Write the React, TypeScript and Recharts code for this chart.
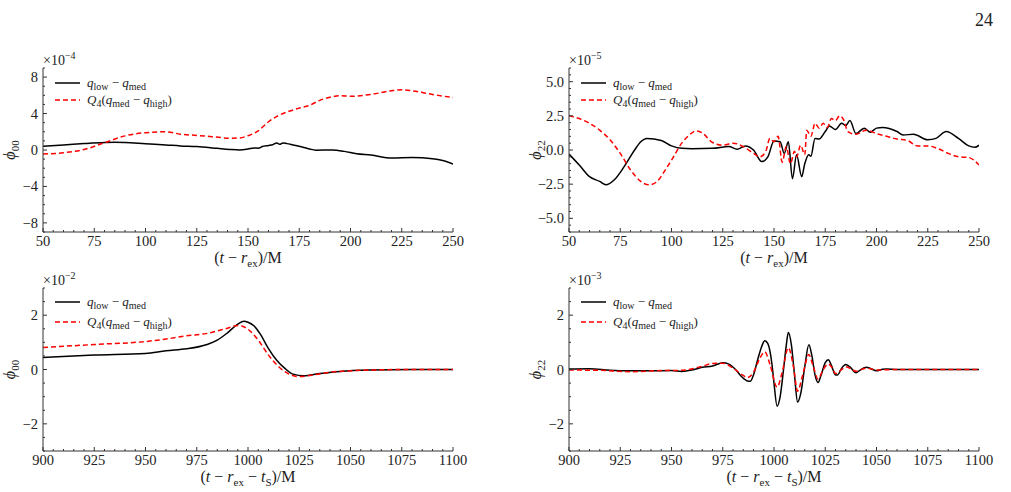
import React from 'react';
import { LineChart, Line, XAxis, YAxis } from 'recharts';

const SERIF = '"Liberation Serif", "DejaVu Serif", serif';
const FRAME = '#333';

// phi_00 over the early window, units of 1e-4
const early00T = [50, 60, 70, 80, 85, 90, 100, 110, 117, 125, 135, 141, 146, 150, 153, 155, 157, 160, 162, 164, 165.5, 167, 169, 172, 176, 180, 183, 191, 197, 203, 210, 220, 230, 240, 245, 250];
const early00Low = [0.42, 0.55, 0.7, 0.82, 0.85, 0.82, 0.68, 0.55, 0.45, 0.38, 0.18, 0.06, 0.0, 0.1, 0.22, 0.2, 0.38, 0.5, 0.58, 0.76, 0.62, 0.78, 0.7, 0.55, 0.35, 0.12, -0.02, 0.0, -0.15, -0.42, -0.55, -0.88, -0.82, -0.95, -1.15, -1.55];
const early00HighT = [50, 60, 70, 80, 90, 100, 110, 117, 125, 133, 141, 146, 150, 155, 160, 165, 170, 175, 180, 185, 190, 195, 200, 210, 220, 225, 230, 240, 250];
const early00High = [-0.45, -0.3, 0.05, 0.8, 1.55, 1.9, 2.0, 1.74, 1.6, 1.45, 1.3, 1.32, 1.57, 2.1, 3.1, 3.8, 4.25, 4.6, 4.9, 5.45, 5.8, 5.95, 5.9, 6.1, 6.5, 6.6, 6.5, 6.1, 5.75];

// phi_22 over the early window, units of 1e-5
const early22T = [50, 55, 60, 65, 68, 72, 77, 82, 85, 88, 95, 100, 105, 110, 120, 128, 132, 136, 140, 144, 147, 150, 153, 155, 157, 159, 161, 163.5, 165, 167, 168, 170, 172, 175, 177, 180, 183, 185, 187, 190, 194, 197, 200, 203, 210, 213, 218, 225, 229, 234, 240, 245, 248, 250];
const early22Low = [-0.3, -1.1, -1.95, -2.3, -2.55, -2.2, -1.2, 0.0, 0.6, 0.85, 0.7, 0.3, 0.12, 0.1, 0.12, 0.25, 0.05, 0.3, 0.0, -0.85, -0.5, 0.65, 0.6, -0.25, 0.6, -2.1, -0.35, -1.95, -1.0, -0.35, -0.45, 0.85, 0.8, 1.35, 1.75, 1.5, 1.95, 1.8, 2.15, 1.2, 1.6, 1.3, 1.6, 1.65, 1.35, 1.1, 1.15, 0.75, 0.85, 1.35, 0.85, 0.3, 0.2, 0.35];
const early22HighT = [50, 55, 60, 65, 70, 75, 80, 85, 89, 93, 97, 100, 105, 110, 112, 115, 120, 125, 130, 135, 140, 143, 146, 148, 150, 152, 154, 156, 158, 160, 161, 163, 165, 166, 168, 170, 172, 174, 176, 178, 180, 182, 184, 186, 190, 195, 200, 205, 210, 215, 220, 225, 230, 235, 240, 245, 250];
const early22High = [2.5, 2.3, 1.95, 1.45, 0.75, -0.25, -1.45, -2.3, -2.55, -2.3, -1.45, -0.75, 0.5, 1.25, 1.4, 1.25, 0.55, 0.35, 0.5, 0.25, -0.25, -0.5, -0.1, 0.85, 0.6, 1.0, -0.9, 0.25, -1.0, -0.1, -0.5, 0.35, -0.35, 1.45, 1.0, 1.95, 1.6, 1.95, 1.65, 2.3, 2.15, 2.5, 2.2, 1.35, 1.15, 1.45, 1.2, 1.0, 0.8, 0.7, 0.3, 0.3, 0.1, -0.25, -0.5, -0.55, -1.1];

// phi_00 around the merger, units of 1e-2
const late00T = [900, 925, 950, 960, 970, 980, 985, 990, 995, 998, 1000, 1003, 1006, 1010, 1014, 1018, 1022, 1027, 1035, 1045, 1060, 1080, 1100];
const late00Low = [0.44, 0.53, 0.59, 0.69, 0.76, 0.92, 1.08, 1.35, 1.67, 1.78, 1.74, 1.6, 1.3, 0.77, 0.34, 0.04, -0.17, -0.23, -0.15, -0.07, -0.02, 0.0, 0.0];
const late00HighT = [900, 925, 950, 960, 970, 980, 990, 995, 997, 1000, 1005, 1010, 1015, 1020, 1025, 1030, 1040, 1060, 1080, 1100];
const late00High = [0.81, 0.92, 1.03, 1.12, 1.24, 1.33, 1.52, 1.62, 1.6, 1.48, 1.08, 0.53, 0.1, -0.17, -0.26, -0.22, -0.1, -0.02, 0.0, 0.0];

// phi_22 around the merger, units of 1e-3
const late22T = [900, 910, 920, 930, 940, 950, 955, 960, 965, 970, 975, 978, 981, 984, 987, 988.5, 990, 992, 994, 995.5, 997, 999, 1000, 1001.5, 1003, 1004.5, 1006, 1007, 1008.5, 1010, 1011.5, 1013, 1015, 1017, 1018.5, 1020, 1021.5, 1023, 1025, 1026.5, 1028, 1030, 1031, 1033, 1035, 1037, 1040, 1042, 1045, 1047, 1050, 1053, 1055, 1060, 1100];
const late22Low = [0.02, 0.03, -0.03, -0.05, -0.05, -0.04, -0.07, -0.02, 0.08, 0.13, 0.25, 0.2, 0.02, -0.25, -0.42, -0.43, -0.2, 0.35, 0.85, 1.06, 0.95, 0.2, -0.5, -1.35, -1.0, -0.1, 0.9, 1.36, 0.9, -0.2, -1.2, -0.9, 0.1, 0.91, 0.5, -0.2, -0.48, -0.2, 0.25, 0.36, 0.15, -0.2, -0.2, 0.05, 0.18, 0.1, -0.12, -0.02, 0.08, 0.04, -0.05, 0.01, 0.02, 0.0, 0.0];
const late22HighT = [900, 915, 930, 945, 955, 965, 970, 975, 980, 985, 987, 990, 993, 995.5, 998, 1001.5, 1004, 1007, 1009.5, 1011.5, 1014, 1017, 1019, 1021.5, 1024, 1026.5, 1028.5, 1030, 1033, 1035, 1040, 1045, 1050, 1060, 1100];
const late22High = [-0.02, -0.03, -0.08, -0.04, -0.03, 0.12, 0.22, 0.23, 0.05, -0.22, -0.3, -0.1, 0.4, 0.65, 0.2, -0.65, -0.1, 0.8, 0.1, -0.8, -0.2, 0.55, 0.15, -0.35, 0.0, 0.2, 0.05, -0.15, 0.0, 0.1, -0.06, 0.05, -0.02, 0.0, 0.0];

// tick marks
const earlyXMajor = [50, 75, 100, 125, 150, 175, 200, 225, 250];
const lateXMajor = [900, 925, 950, 975, 1000, 1025, 1050, 1075, 1100];
const y00EarlyMajor = [-8, -4, 0, 4, 8];
const y22EarlyMajor = [-5, -2.5, 0, 2.5, 5];
const yLateMajor = [-2, 0, 2];

const steps = (a: number, b: number, s: number) => {
  const out: number[] = [];
  for (let v = a; v <= b + 1e-9; v += s) out.push(Math.round(v * 100) / 100);
  return out;
};

const rows = (t: number[], v: number[]) => t.map((x, i) => ({ t: x, v: v[i] }));

const minus = (s: string) => s.replace('-', '\u2212');

type Side = 'bottom' | 'top' | 'left' | 'right';

function makeTick(side: Side, majors: number[], fmt: ((v: number) => string) | null) {
  return (props: any) => {
    const { x, y, payload } = props;
    const v = payload.value;
    const major = majors.some((m) => Math.abs(m - v) < 1e-6);
    const len = major ? 4 : 2;
    let line;
    if (side === 'bottom') line = <line x1={x} y1={y} x2={x} y2={y - len} stroke={FRAME} />;
    else if (side === 'top') line = <line x1={x} y1={y} x2={x} y2={y + len} stroke={FRAME} />;
    else if (side === 'left') line = <line x1={x} y1={y} x2={x + len} y2={y} stroke={FRAME} />;
    else line = <line x1={x} y1={y} x2={x - len} y2={y} stroke={FRAME} />;
    let label = null;
    if (major && fmt) {
      if (side === 'bottom')
        label = (
          <text x={x} y={y + 14} textAnchor="middle" fontFamily={SERIF} fontSize={14.5} fill="#222">
            {fmt(v)}
          </text>
        );
      else if (side === 'left')
        label = (
          <text x={x - 5} y={y + 5} textAnchor="end" fontFamily={SERIF} fontSize={14.5} fill="#222">
            {fmt(v)}
          </text>
        );
    }
    return (
      <g>
        {line}
        {label}
      </g>
    );
  };
}

interface PanelProps {
  left: number;
  top: number;
  width: number;
  height: number;
  plotLeft: number;
  plotRight: number;
  plotTop: number;
  plotBottom: number;
  xDomain: [number, number];
  xMajor: number[];
  xMinor: number[];
  yDomain: [number, number];
  yMajor: number[];
  yMinor: number[];
  yFmt: (v: number) => string;
  low: { t: number; v: number }[];
  high: { t: number; v: number }[];
  mode: string;
  exponent: string;
  late: boolean;
  legendY: [number, number];
}

function Panel(p: PanelProps) {
  const pw = p.plotRight - p.plotLeft;
  const ph = p.plotBottom - p.plotTop;
  const cx = p.plotLeft + pw / 2;
  const cy = p.plotTop + ph / 2;
  const lx = p.plotLeft + 12;
  const sub = { fontSize: 10 } as const;
  return (
    <div style={{ position: 'absolute', left: p.left, top: p.top, width: p.width, height: p.height }}>
      <LineChart
        width={p.width}
        height={p.height}
        margin={{ top: p.plotTop, right: p.width - p.plotRight, left: 0, bottom: 0 }}
      >
        <XAxis
          dataKey="t"
          type="number"
          domain={p.xDomain}
          ticks={p.xMinor}
          interval={0}
          height={p.height - p.plotBottom}
          tickSize={0}
          tickMargin={0}
          tickLine={false}
          axisLine={{ stroke: FRAME }}
          tick={makeTick('bottom', p.xMajor, (v) => String(v))}
          allowDataOverflow
        />
        <XAxis
          xAxisId="top"
          orientation="top"
          dataKey="t"
          type="number"
          domain={p.xDomain}
          ticks={p.xMinor}
          interval={0}
          height={0}
          tickSize={0}
          tickMargin={0}
          tickLine={false}
          axisLine={{ stroke: FRAME }}
          tick={makeTick('top', p.xMajor, null)}
          allowDataOverflow
        />
        <YAxis
          type="number"
          domain={p.yDomain}
          ticks={p.yMinor}
          interval={0}
          width={p.plotLeft}
          tickSize={0}
          tickMargin={0}
          tickLine={false}
          axisLine={{ stroke: FRAME }}
          tick={makeTick('left', p.yMajor, p.yFmt)}
          allowDataOverflow
        />
        <YAxis
          yAxisId="right"
          orientation="right"
          type="number"
          domain={p.yDomain}
          ticks={p.yMinor}
          interval={0}
          width={0}
          tickSize={0}
          tickMargin={0}
          tickLine={false}
          axisLine={{ stroke: FRAME }}
          tick={makeTick('right', p.yMajor, null)}
          allowDataOverflow
        />
        <Line
          data={p.low}
          dataKey="v"
          type="monotone"
          stroke="#000"
          strokeWidth={1.5}
          dot={false}
          isAnimationActive={false}
        />
        <Line
          data={p.high}
          dataKey="v"
          type="monotone"
          stroke="#ff0000"
          strokeWidth={1.5}
          strokeDasharray="5 3"
          dot={false}
          isAnimationActive={false}
        />
      </LineChart>
      <svg
        width={p.width}
        height={p.height}
        style={{ position: 'absolute', left: 0, top: 0, pointerEvents: 'none' }}
        fontFamily={SERIF}
        fill="#222"
      >
        {/* legend */}
        <line x1={lx} x2={lx + 25} y1={p.plotTop + p.legendY[0]} y2={p.plotTop + p.legendY[0]} stroke="#000" strokeWidth={1.5} />
        <text x={lx + 32} y={p.plotTop + p.legendY[0] + 4} fontSize={13}>
          <tspan fontStyle="italic">q</tspan>
          <tspan dy={3} {...sub}>low</tspan>
          <tspan dy={-3}> {'\u2212'} </tspan>
          <tspan fontStyle="italic">q</tspan>
          <tspan dy={3} {...sub}>med</tspan>
        </text>
        <line x1={lx} x2={lx + 25} y1={p.plotTop + p.legendY[1]} y2={p.plotTop + p.legendY[1]} stroke="#ff0000" strokeWidth={1.5} strokeDasharray="5 3" />
        <text x={lx + 32} y={p.plotTop + p.legendY[1] + 4} fontSize={13}>
          <tspan fontStyle="italic">Q</tspan>
          <tspan dy={3} {...sub}>4</tspan>
          <tspan dy={-3}>(</tspan>
          <tspan fontStyle="italic">q</tspan>
          <tspan dy={3} {...sub}>med</tspan>
          <tspan dy={-3}> {'\u2212'} </tspan>
          <tspan fontStyle="italic">q</tspan>
          <tspan dy={3} {...sub}>high</tspan>
          <tspan dy={-3}>)</tspan>
        </text>
        {/* offset multiplier */}
        <text x={p.plotLeft} y={p.plotTop - 3} fontSize={14}>
          {'\u00d710'}
          <tspan dy={-6} fontSize={10}>{'\u2212' + p.exponent}</tspan>
        </text>
        {/* y label */}
        <text transform={`translate(${p.plotLeft - 28}, ${cy}) rotate(-90)`} textAnchor="middle" fontSize={16}>
          <tspan fontStyle="italic">{'\u03d5'}</tspan>
          <tspan dy={4} fontSize={11}>{p.mode}</tspan>
        </text>
        {/* x label */}
        <text x={cx} y={p.plotBottom + 31} textAnchor="middle" fontSize={16}>
          <tspan>(</tspan>
          <tspan fontStyle="italic">t</tspan>
          <tspan> {'\u2212'} </tspan>
          <tspan fontStyle="italic">r</tspan>
          <tspan dy={4} fontSize={11}>ex</tspan>
          {p.late ? (
            <>
              <tspan dy={-4}> {'\u2212'} </tspan>
              <tspan fontStyle="italic">t</tspan>
              <tspan dy={4} fontSize={11}>S</tspan>
            </>
          ) : null}
          <tspan dy={-4}>)/M</tspan>
        </text>
      </svg>
    </div>
  );
}

export default function App() {
  const fmt00 = (v: number) => minus(String(v));
  const fmt22 = (v: number) => minus(v.toFixed(1));
  return (
    <div style={{ position: 'absolute', left: 0, top: 0, width: 1011, height: 492, background: '#fff', overflow: 'hidden' }}>
      <div style={{ position: 'absolute', left: 975, top: 10, fontFamily: SERIF, fontSize: 18, color: '#222' }}>24</div>
      <Panel
        left={0} top={0} width={470} height={270}
        plotLeft={43} plotRight={453} plotTop={68} plotBottom={232}
        xDomain={[50, 250]} xMajor={earlyXMajor} xMinor={steps(50, 250, 5)}
        yDomain={[-9, 9]} yMajor={y00EarlyMajor} yMinor={steps(-9, 9, 1)} yFmt={fmt00}
        low={rows(early00T, early00Low)} high={rows(early00HighT, early00High)}
        mode="00" exponent="4" late={false} legendY={[15, 32]}
      />
      <Panel
        left={500} top={0} width={511} height={270}
        plotLeft={69} plotRight={479} plotTop={68} plotBottom={232}
        xDomain={[50, 250]} xMajor={earlyXMajor} xMinor={steps(50, 250, 5)}
        yDomain={[-6, 6]} yMajor={y22EarlyMajor} yMinor={steps(-6, 6, 0.5)} yFmt={fmt22}
        low={rows(early22T, early22Low)} high={rows(early22HighT, early22High)}
        mode="22" exponent="5" late={false} legendY={[15, 32]}
      />
      <Panel
        left={0} top={270} width={470} height={222}
        plotLeft={43} plotRight={453} plotTop={18} plotBottom={181}
        xDomain={[900, 1100]} xMajor={lateXMajor} xMinor={steps(900, 1100, 5)}
        yDomain={[-3, 3]} yMajor={yLateMajor} yMinor={steps(-3, 3, 0.5)} yFmt={fmt00}
        low={rows(late00T, late00Low)} high={rows(late00HighT, late00High)}
        mode="00" exponent="2" late={true} legendY={[14, 34]}
      />
      <Panel
        left={500} top={270} width={511} height={222}
        plotLeft={69} plotRight={479} plotTop={18} plotBottom={181}
        xDomain={[900, 1100]} xMajor={lateXMajor} xMinor={steps(900, 1100, 5)}
        yDomain={[-3, 3]} yMajor={yLateMajor} yMinor={steps(-3, 3, 0.5)} yFmt={fmt00}
        low={rows(late22T, late22Low)} high={rows(late22HighT, late22High)}
        mode="22" exponent="3" late={true} legendY={[14, 34]}
      />
    </div>
  );
}
